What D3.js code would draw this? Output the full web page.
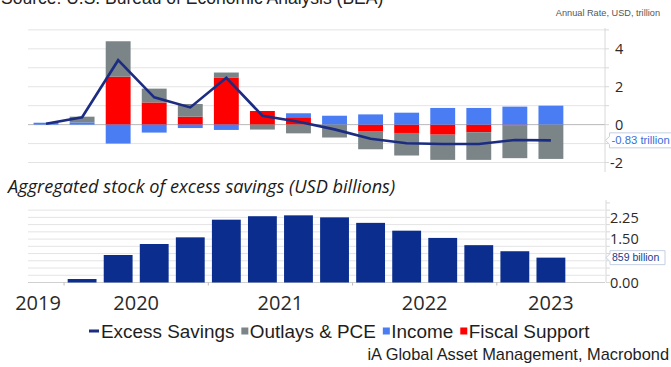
<!DOCTYPE html>
<html>
<head>
<meta charset="utf-8">
<script src="https://cdn.jsdelivr.net/npm/d3@7"></script>
<style>
  html, body { margin: 0; padding: 0; background: #fff; }
  svg { display: block; }
</style>
</head>
<body>
<svg id="chart" width="671" height="367"></svg>
<script>
// Quarterly periods shown (last slot left empty, as in the source layout)
const quarters = ["2019Q4","2020Q1","2020Q2","2020Q3","2020Q4","2021Q1","2021Q2","2021Q3",
                  "2021Q4","2022Q1","2022Q2","2022Q3","2022Q4","2023Q1","2023Q2","2023Q3"];

// Contributions to excess savings, annual rate, USD trillion
const fiscalSupport = [0, 0, 2.53, 1.17, 0.42, 2.49, 0.72, 0.39, 0, -0.37, -0.44, -0.53, -0.40, -0.05, 0];
const income        = [0.10, 0.12, -1.00, -0.42, -0.18, -0.28, 0, 0.21, 0.47, 0.54, 0.63, 0.88, 0.88, 0.95, 1.00];
const outlaysPCE    = [0, 0.30, 1.87, 0.73, 0.67, 0.26, -0.26, -0.46, -0.68, -0.93, -1.19, -1.33, -1.46, -1.72, -1.81];
const excessSavings = [0.05, 0.39, 3.40, 1.44, 0.91, 2.47, 0.47, 0.15, -0.25, -0.75, -0.98, -1.02, -1.02, -0.81, -0.83];

// Aggregated stock of excess savings, USD trillion
const stock = [0, 0.12, 0.95, 1.33, 1.56, 2.17, 2.29, 2.32, 2.25, 2.06, 1.79, 1.54, 1.29, 1.08, 0.859];

const years = [2019, 2020, 2021, 2022, 2023];
const topTicks = [-2, 0, 2, 4];
const bottomTicks = [0, 0.75, 1.5, 2.25];

const C = {
  grey: "#7b8588", red: "#ff0000", blue: "#4a7df4", navy: "#1b2c82",
  stockBar: "#0b2e8e", grid: "#e4e4e4", zero: "#b8b8b8", axis: "#d8d8d8", text: "#2a2a2a"
};

const svg = d3.select("#chart");
const left = 28, right = 605;

// Source line at the very top (partly out of frame)
svg.append("text").attr("x", 1).attr("y", 4)
  .attr("font-family", "Liberation Sans, Arial, sans-serif").attr("font-size", 17.5)
  .attr("fill", "#222").text("Source: U.S. Bureau of Economic Analysis (BEA)");

svg.append("text").attr("x", 660).attr("y", 16).attr("text-anchor", "end")
  .attr("font-family", "Liberation Sans Narrow, Liberation Sans, sans-serif").attr("font-size", 9.2)
  .attr("fill", "#555").text("Annual Rate, USD, trillion");

// ---------- Top panel: flows ----------
const xTop = d3.scaleBand().domain(quarters).range([left, right]).paddingInner(0.31).paddingOuter(0.155);
const yTop = d3.scaleLinear().domain([-2.5, 5.1]).range([172, 28]);

const gTop = svg.append("g");
gTop.selectAll("line.grid").data(d3.range(-2, 6)).join("line")
  .attr("x1", left).attr("x2", right)
  .attr("y1", d => yTop(d)).attr("y2", d => yTop(d))
  .attr("stroke", d => d === 0 ? C.zero : C.grid).attr("stroke-width", 1);

const rows = quarters.slice(0, 15).map((q, i) => ({
  q, fiscal: fiscalSupport[i], income: income[i], outlays: outlaysPCE[i]
}));
const keys = ["fiscal", "income", "outlays"];
const colorOf = { fiscal: C.red, income: C.blue, outlays: C.grey };
const series = d3.stack().keys(keys).offset(d3.stackOffsetDiverging)(rows);

gTop.selectAll("g.series").data(series).join("g")
  .attr("fill", d => colorOf[d.key])
  .selectAll("rect").data(d => d).join("rect")
  .attr("x", d => xTop(d.data.q))
  .attr("width", xTop.bandwidth())
  .attr("y", d => yTop(Math.max(d[0], d[1])))
  .attr("height", d => Math.abs(yTop(d[0]) - yTop(d[1])));

const line = d3.line()
  .x((d, i) => xTop(quarters[i]) + xTop.bandwidth() / 2)
  .y(d => yTop(d));
gTop.append("path").datum(excessSavings)
  .attr("d", line).attr("fill", "none")
  .attr("stroke", C.navy).attr("stroke-width", 2.6).attr("stroke-linejoin", "miter");

// right axis
const axTop = gTop.append("g").attr("transform", `translate(${right},0)`);
axTop.append("line").attr("y1", 28).attr("y2", 172).attr("stroke", C.axis);
axTop.selectAll("line.t").data(d3.range(-2, 6)).join("line")
  .attr("x1", 0).attr("x2", 4).attr("y1", d => yTop(d)).attr("y2", d => yTop(d)).attr("stroke", C.axis);
axTop.selectAll("text").data(topTicks).join("text")
  .attr("x", d => d < 0 ? 5 : 10).attr("y", d => yTop(d)).attr("dy", "0.36em")
  .attr("font-family", "Open Sans, sans-serif").attr("font-size", 14.5).attr("fill", C.text)
  .text(d => d < 0 ? "-" + Math.abs(d) : d);

// value callout
function callout(g, x, y, w, h, label, color, fs) {
  const p = `M${x},${y} L${x + 4},${y - 4} L${x + 4},${y - h / 2} L${x + 4 + w},${y - h / 2} L${x + 4 + w},${y + h / 2} L${x + 4},${y + h / 2} L${x + 4},${y + 4} Z`;
  g.append("path").attr("d", p).attr("fill", "#fff").attr("stroke", "#c5d0e3").attr("stroke-width", 1);
  g.append("text").attr("x", x + 6).attr("y", y).attr("dy", "0.35em")
    .attr("font-family", "Liberation Sans, Arial, sans-serif").attr("font-size", fs)
    .attr("fill", color).text(label);
}
callout(svg, right + 0.5, yTop(excessSavings[14]), 66, 15, "-0.83 trillion", "#3a6fe0", 11.3);

// ---------- Bottom panel: stock ----------
svg.append("text").attr("x", 8).attr("y", 193)
  .attr("font-family", "Open Sans, sans-serif").attr("font-style", "italic").attr("font-size", 18.2)
  .attr("fill", "#1a1a1a").text("Aggregated stock of excess savings (USD billions)");

const xBot = d3.scaleBand().domain(quarters).range([left, right]).paddingInner(0.2).paddingOuter(0.1);
const yBot = d3.scaleLinear().domain([0, 2.85]).range([282.5, 200]);

const gBot = svg.append("g");
gBot.selectAll("line.grid").data(d3.range(0, 11).map(i => i * 0.25)).join("line")
  .attr("x1", left).attr("x2", right)
  .attr("y1", d => yBot(d)).attr("y2", d => yBot(d))
  .attr("stroke", d => d === 0 ? "#d0d0d0" : C.grid);

gBot.selectAll("rect").data(stock).join("rect")
  .attr("x", (d, i) => xBot(quarters[i]))
  .attr("width", xBot.bandwidth())
  .attr("y", d => yBot(d))
  .attr("height", d => yBot(0) - yBot(d))
  .attr("fill", C.stockBar);

const axBot = gBot.append("g").attr("transform", `translate(${right + 1},0)`);
axBot.append("line").attr("y1", 200).attr("y2", 282.5).attr("stroke", C.axis);
axBot.selectAll("line.t").data(d3.range(0, 12).map(i => i * 0.25)).join("line")
  .attr("x1", 0).attr("x2", 4).attr("y1", d => yBot(d)).attr("y2", d => yBot(d)).attr("stroke", C.axis);
// 0.75 sits under the value callout, so it is left out
axBot.selectAll("text").data(bottomTicks.filter(d => d !== 0.75)).join("text")
  .attr("x", 4).attr("y", d => yBot(d)).attr("dy", "0.36em")
  .attr("font-family", "Open Sans, sans-serif").attr("font-size", 14.5).attr("fill", C.text)
  .text(d => d3.format(".2f")(d));

callout(svg, right + 1, yBot(stock[14]), 55, 14, "859 billion", "#1c3a8c", 10.5);

// year ticks and labels on the time axis
const step = xBot.step();
const boundaries = years.map(y => {
  const first = quarters.findIndex(q => q.startsWith(String(y)));
  const qn = +quarters[first].slice(-1);
  const s = xBot(quarters[first]) - step * 0.1 - (qn - 1) * step;
  return { y, s, e: s + 4 * step };
});
gBot.selectAll("line.yt").data(boundaries.filter(b => b.s > left)).join("line")
  .attr("x1", d => d.s).attr("x2", d => d.s).attr("y1", 282.5).attr("y2", 285.5)
  .attr("stroke", "#bdbdbd");
gBot.selectAll("text.yl").data(boundaries).join("text")
  .attr("x", d => (Math.max(d.s, 12) + Math.min(d.e, right)) / 2)
  .attr("y", 310).attr("text-anchor", "middle")
  .attr("font-family", "Open Sans, sans-serif").attr("font-size", 20).attr("fill", C.text)
  .text(d => d.y);

// ---------- Legend ----------
const legendItems = [
  { label: "Excess Savings", color: C.navy, type: "line" },
  { label: "Outlays & PCE", color: C.grey, type: "box" },
  { label: "Income", color: C.blue, type: "box" },
  { label: "Fiscal Support", color: C.red, type: "box" }
];
const lg = svg.append("g");
let lx = 89;
legendItems.forEach(it => {
  if (it.type === "line") {
    lg.append("rect").attr("x", lx).attr("y", 329.5).attr("width", 10).attr("height", 3).attr("fill", it.color);
    lx += 12;
  } else {
    lg.append("rect").attr("x", lx).attr("y", 327.5).attr("width", 7).attr("height", 7).attr("fill", it.color);
    lx += 8.5;
  }
  const t = lg.append("text").attr("x", lx).attr("y", 337.5)
    .attr("font-family", "Liberation Sans, Arial, sans-serif").attr("font-size", 18.9)
    .attr("fill", "#1e1e1e").text(it.label);
  lx += t.node().getComputedTextLength() + 7;
});

svg.append("text").attr("x", 669).attr("y", 360).attr("text-anchor", "end")
  .attr("font-family", "Liberation Sans, Arial, sans-serif").attr("font-size", 16.4)
  .attr("fill", "#1e1e1e").text("iA Global Asset Management, Macrobond");
</script>
</body>
</html>
